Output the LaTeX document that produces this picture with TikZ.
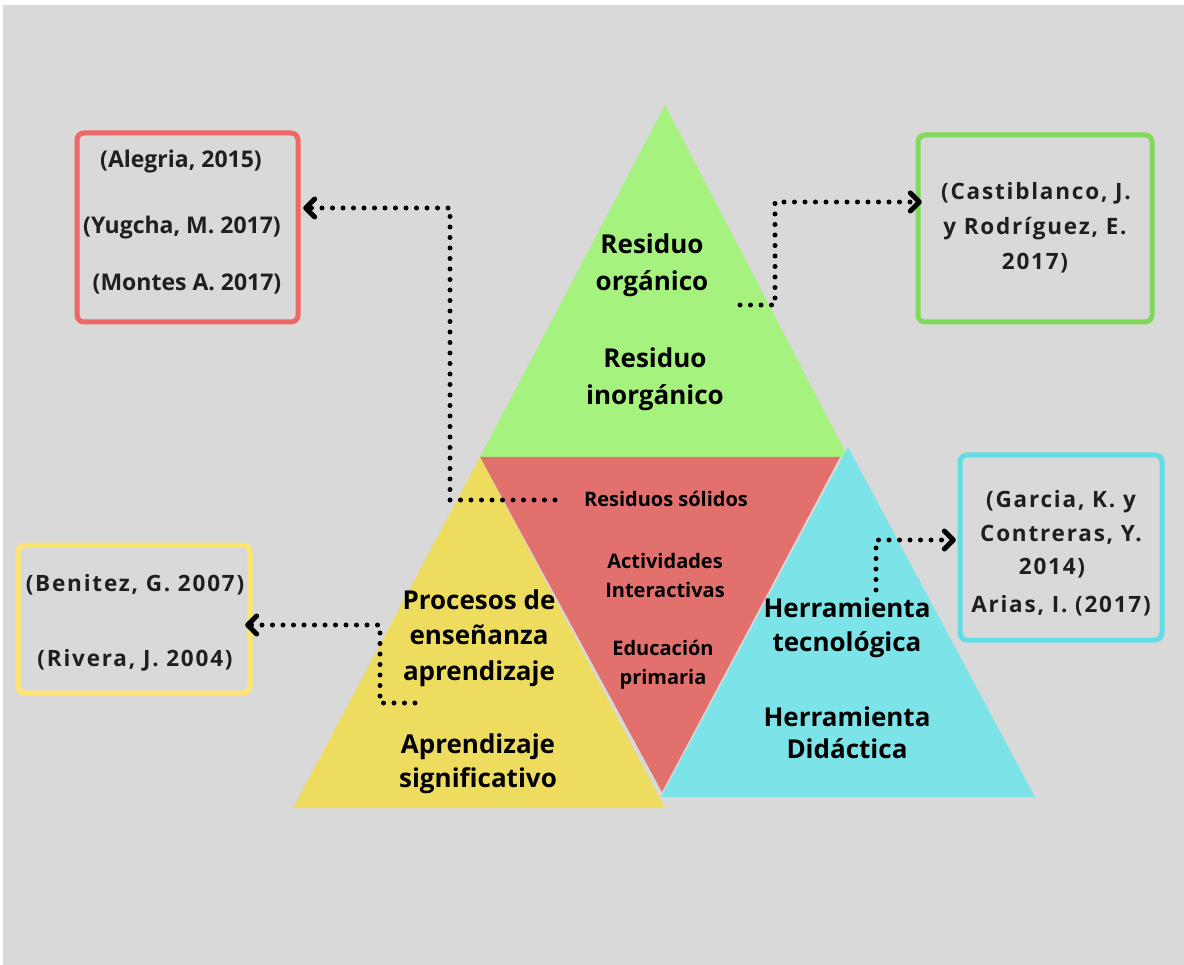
\documentclass[tikz,border=0pt]{standalone}
\usepackage{fontspec}
\setmainfont{Open Sans}
\usetikzlibrary{arrows.meta}
\definecolor{bg}{HTML}{D9D9D9}
\definecolor{trigreen}{HTML}{A6F27E}
\definecolor{trired}{HTML}{E2716E}
\definecolor{triyellow}{HTML}{EDDC5D}
\definecolor{tricyan}{HTML}{7CE3E8}
\definecolor{boxred}{HTML}{EF6767}
\definecolor{boxgreen}{HTML}{7FD95A}
\definecolor{boxyellow}{HTML}{FDE56F}
\definecolor{boxcyan}{HTML}{62DDE6}
\tikzset{
  refbox/.style={draw, line width=5pt, rounded corners=7pt},
  bigtxt/.style={font=\fontsize{26}{37}\selectfont\bfseries, align=center, text=black, inner sep=0pt},
  smalltxt/.style={font=\fontsize{20}{29}\selectfont\bfseries, align=center, text=black, inner sep=0pt},
  boxtxt/.style={font=\fontsize{23}{34}\selectfont\bfseries, text=black!88, inner sep=0pt},
  wboxtxt/.style={font=\fontsize{22.5}{34}\selectfont\bfseries\addfontfeatures{LetterSpace=8}, text=black!88, inner sep=0pt},
  dotline/.style={line width=5pt, line cap=round, dash pattern=on 0pt off 10.5pt,
    -{Straight Barb[length=9pt,width=18pt,line width=5pt,round]}},
}
\begin{document}
\begin{tikzpicture}[x=1pt,y=-1pt]
\useasboundingbox (0,0) rectangle (1184,965);
\fill[white] (0,0) rectangle (1184,965);
\fill[bg] (3,5) rectangle (1184,965);
% triangles
\fill[trigreen] (665,105) -- (848,457) -- (480,457) -- cycle;
\fill[trired] (480,457) -- (840,457) -- (662,792) -- cycle;
\fill[triyellow] (480,457) -- (665,808) -- (293,808) -- cycle;
\fill[tricyan] (848,447) -- (1035,797) -- (661,797) -- cycle;
% triangle texts
\node[bigtxt] (org) at (652,265) {Residuo\\orgánico};
\node[bigtxt] (inorg) at (655,379) {Residuo\\inorgánico};
\node[smalltxt] (sol) at (666,499) {Residuos sólidos};
\node[smalltxt] (act) at (665,575) {Actividades\\Interactivas};
\node[smalltxt] (edu) at (663,665) {Educación\\primaria};
\node[bigtxt, font=\fontsize{26}{35.5}\selectfont\bfseries] (proc) at (479,638) {Procesos de\\enseñanza\\aprendizaje};
\node[bigtxt, font=\fontsize{26}{34}\selectfont\bfseries] (sig) at (478,764) {Aprendizaje\\significativo};
\node[bigtxt, font=\fontsize{26}{34}\selectfont\bfseries] (tec) at (847,628) {Herramienta\\tecnológica};
\node[bigtxt, font=\fontsize{26}{32}\selectfont\bfseries] (did) at (847,733) {Herramienta\\Didáctica};
% boxes
\draw[refbox, boxred] (77,133) rectangle (298,322);
\node (redbox) at (187.5,227.5) [minimum width=221pt, minimum height=189pt, inner sep=0pt] {};
\draw[refbox, boxgreen] (918,135) rectangle (1152,322);
\node (greenbox) at (1035,228.5) [minimum width=234pt, minimum height=187pt, inner sep=0pt] {};
\draw[refbox, boxyellow] (18,545) rectangle (250,693);
\node (yellowbox) at (134,619) [minimum width=232pt, minimum height=148pt, inner sep=0pt] {};
\draw[refbox, boxcyan] (960,455) rectangle (1162,640);
\node (cyanbox) at (1061,547.5) [minimum width=202pt, minimum height=185pt, inner sep=0pt] {};
% box texts
\node[boxtxt] (r1) at (181,162) {(Alegria, 2015)};
\node[boxtxt] (r2) at (182,228) {(Yugcha, M. 2017)};
\node[boxtxt] (r3) at (187,284) {(Montes A. 2017)};
\node[wboxtxt] (g1) at (1036,193) {(Castiblanco, J.};
\node[wboxtxt] (g2) at (1035,229) {y Rodríguez, E.};
\node[wboxtxt] (g3) at (1035,263) {2017)};
\node[wboxtxt] (y1) at (135,585) {(Benitez, G. 2007)};
\node[wboxtxt] (y2) at (135,660) {(Rivera, J. 2004)};
\node[wboxtxt] (c1) at (1061,502) {(Garcia, K. y};
\node[wboxtxt] (c2) at (1061,535) {Contreras, Y.};
\node[wboxtxt] (c3) at (1052,568) {2014)};
\node[wboxtxt] (c4) at (1061,606) {Arias, I. (2017)};
% connectors
\coordinate (s1) at (555,500);
\coordinate (k1) at (450,208);
\draw[dotline] (s1) -| (k1) -- ([xshift=5pt]k1 -| redbox.east);
\coordinate (s2) at (740,305);
\coordinate (k2) at (775,202);
\draw[dotline] (s2) -| (k2) -- ([xshift=4pt]k2 -| greenbox.west);
\coordinate (s3) at (415,703);
\coordinate (k3) at (380,625);
\draw[dotline] (s3) -| (k3) -- ([xshift=-5pt]k3 -| yellowbox.east);
\coordinate (s4) at (876,590);
\coordinate (k4) at (876,540);
\draw[dotline] (s4) -- (k4) -- ([xshift=-4pt]k4 -| cyanbox.west);
\end{tikzpicture}
\end{document}
